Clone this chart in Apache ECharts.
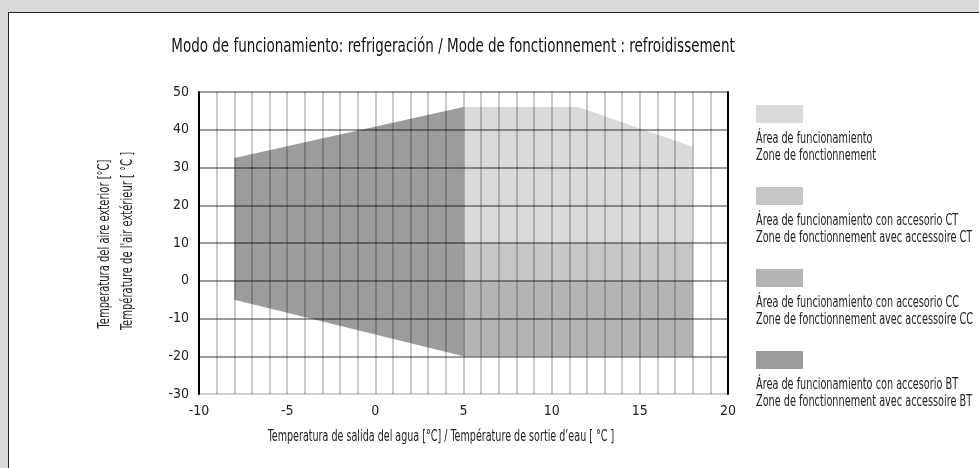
<!DOCTYPE html>
<html>
<head>
<meta charset="utf-8">
<script src="https://cdn.jsdelivr.net/npm/echarts@6/dist/echarts.min.js"></script>
<style>
  html, body { margin: 0; padding: 0; background: #d9d9d9; width: 979px; height: 468px; overflow: hidden; }
  #panel { position: absolute; left: 8px; top: 12px; width: 1000px; height: 500px; background: #ffffff; border: 1.5px solid #222; box-sizing: border-box; }
  #chart { position: absolute; left: 0; top: 0; width: 979px; height: 468px; }
</style>
</head>
<body>
<div id="panel"></div>
<div id="chart"></div>
<script>
// ---- Data ----
var titleText = 'Modo de funcionamiento: refrigeración / Mode de fonctionnement : refroidissement';
var xAxisName = 'Temperatura de salida del agua [°C] / Température de sortie d\u2019eau [ °C ]';
var yAxisNameLines = ['Temperatura del aire exterior [°C]', 'Température de l\'air extérieur [ °C ]'];

var xTicks = [-10, -5, 0, 5, 10, 15, 20];
var yTicks = [-30, -20, -10, 0, 10, 20, 30, 40, 50];

// polygons (outlet water temp, outdoor air temp)
var areaBase = [[5, -20], [5, 46], [11.5, 46], [18, 35.5], [18, -20]];
var areaCT   = [[5, -20], [5, 10], [18, 10], [18, -20]];
var areaCC   = [[5, -20], [5, 0], [18, 0], [18, -20]];
var areaBT   = [[-8, -5], [-8, 32.5], [5, 46], [5, -20]];

var seriesNames = [
  ['Área de funcionamiento', 'Zone de fonctionnement'],
  ['Área de funcionamiento con accesorio CT', 'Zone de fonctionnement avec accessoire CT'],
  ['Área de funcionamiento con accesorio CC', 'Zone de fonctionnement avec accessoire CC'],
  ['Área de funcionamiento con accesorio BT', 'Zone de fonctionnement avec accessoire BT']
];
var areas = [areaBase, areaCT, areaCC, areaBT];
var colors = ['#d9dadc', '#c5c6c8', '#b3b4b6', '#9b9c9e'];

var FONT = '"DejaVu Sans Condensed", "Liberation Sans Narrow", "Open Sans", sans-serif';

var chart = echarts.init(document.getElementById('chart'), null, { renderer: 'canvas' });

function polySeries(idx) {
  return {
    type: 'custom',
    name: seriesNames[idx][0],
    coordinateSystem: 'cartesian2d',
    z: 2 + idx,
    silent: true,
    data: [0],
    renderItem: function (params, api) {
      var pts = areas[idx].map(function (p) { return api.coord(p); });
      return {
        type: 'polygon',
        shape: { points: pts },
        style: { fill: colors[idx], stroke: null }
      };
    }
  };
}

var hColors = yTicks.map(function (v, i) { return i === 0 ? 'rgba(0,0,0,0.25)' : 'rgba(0,0,0,0.52)'; });

var graphics = [];
// title
graphics.push({ type: 'text', x: 453, y: 47, scaleX: 0.75, style: { text: titleText, font: '20px ' + FONT, fill: '#111', align: 'center', verticalAlign: 'middle' } });
// axis names
graphics.push({ type: 'text', x: 441, y: 437, scaleX: 0.71, style: { text: xAxisName, font: '15px ' + FONT, fill: '#222', align: 'center', verticalAlign: 'middle' } });
graphics.push({ type: 'text', x: 105, y: 244, rotation: Math.PI / 2, scaleX: 0.74, style: { text: yAxisNameLines[0], font: '15px ' + FONT, fill: '#222', align: 'center', verticalAlign: 'middle' } });
graphics.push({ type: 'text', x: 128, y: 241, rotation: Math.PI / 2, scaleX: 0.74, style: { text: yAxisNameLines[1], font: '15px ' + FONT, fill: '#222', align: 'center', verticalAlign: 'middle' } });
// legend
var swatchTops = [105, 187, 269, 351];
seriesNames.forEach(function (nm, i) {
  var t = swatchTops[i];
  graphics.push({ type: 'rect', x: 756, y: t, shape: { width: 47, height: 18 }, style: { fill: colors[i] } });
  graphics.push({ type: 'text', x: 756, y: t + 26, scaleX: 0.72, style: { text: nm[0] + '\n' + nm[1], font: '15px ' + FONT, fill: '#222', lineHeight: 17, align: 'left', verticalAlign: 'top' } });
});

chart.setOption({
  backgroundColor: 'transparent',
  animation: false,
  grid: { left: 199, right: 251, top: 92, bottom: 74, containLabel: false },
  xAxis: [{
    type: 'value', min: -10, max: 20, interval: 5, z: 10,
    axisLine: { show: false }, axisTick: { show: false },
    axisLabel: { fontFamily: FONT, fontSize: 14, color: '#222', margin: 10 },
    splitLine: { show: true, lineStyle: { color: 'rgba(0,0,0,0.28)', width: 1.5 } },
    minorTick: { show: false, splitNumber: 5 },
    minorSplitLine: { show: true, lineStyle: { color: 'rgba(0,0,0,0.28)', width: 1.5 } }
  }],
  yAxis: [{
    type: 'value', min: -30, max: 50, interval: 10, z: 10,
    axisLine: { show: true, onZero: false, lineStyle: { color: '#000', width: 2 } },
    axisTick: { show: false },
    axisLabel: { fontFamily: FONT, fontSize: 14, color: '#222', margin: 10 },
    splitLine: { show: true, lineStyle: { color: hColors, width: 1.5 } }
  }, {
    type: 'value', min: -30, max: 50, interval: 10, position: 'right', z: 10,
    axisLine: { show: true, onZero: false, lineStyle: { color: '#000', width: 2 } },
    axisTick: { show: false }, axisLabel: { show: false }, splitLine: { show: false }
  }],
  series: [polySeries(0), polySeries(1), polySeries(2), polySeries(3)],
  graphic: graphics
});
</script>
</body>
</html>
